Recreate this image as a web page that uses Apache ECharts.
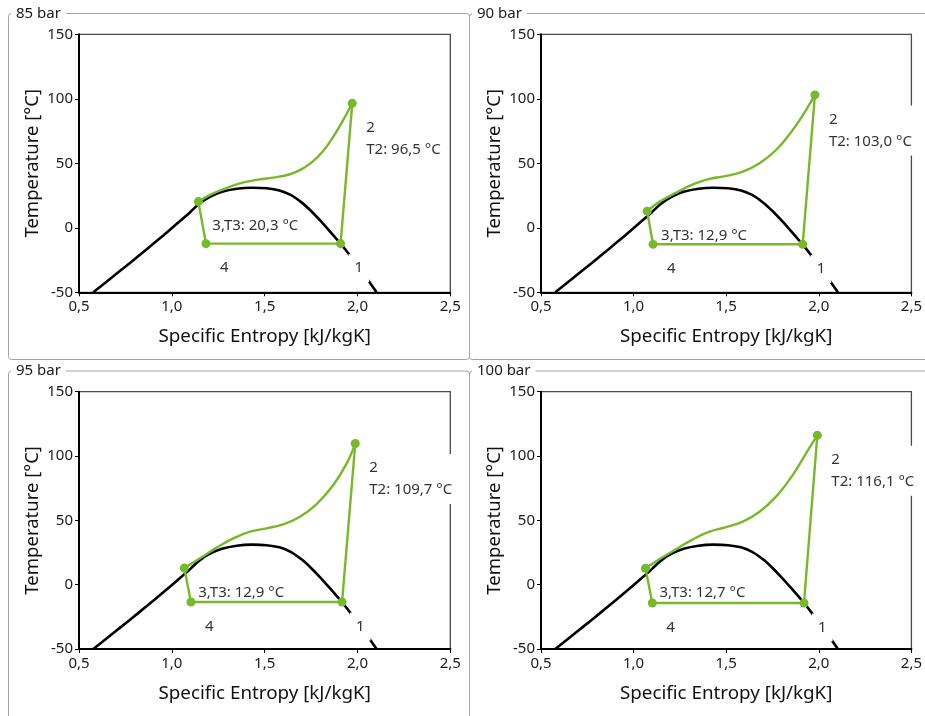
<!DOCTYPE html>
<html>
<head>
<meta charset="utf-8">
<title>CO2 cycle T-s diagrams</title>
<script src="https://cdn.jsdelivr.net/npm/echarts@6/dist/echarts.min.js"></script>
<style>
  html, body { margin: 0; padding: 0; background: #fff; }
  #chart { width: 925px; height: 716px; }
</style>
</head>
<body>
<div id="chart"></div>
<script>
// Panel titles (gas cooler pressure)
const panelTitles = ['85 bar', '90 bar', '95 bar', '100 bar'];

// Axis ticks
const sTicks = [0.5, 1.0, 1.5, 2.0, 2.5];
const tTicks = [-50, 0, 50, 100, 150];

// Saturation dome of CO2 (entropy kJ/kgK, temperature °C)
const domeS = [0.577, 0.685, 0.775, 0.865, 0.954, 1.044, 1.10, 1.146, 1.2, 1.27, 1.35, 1.43, 1.51, 1.58, 1.64, 1.70, 1.75, 1.80, 1.85, 1.909, 1.96, 2.03, 2.103];
const domeT = [-50, -37.6, -27.2, -16.6, -5.9, 5.2, 12.3, 18.5, 23.7, 27.9, 30.3, 31.1, 30.7, 29.0, 25.5, 19.5, 13.0, 5.5, -2.5, -12.3, -21.5, -35.0, -50];

// State points 1..4 per panel
const stateS85 = [1.909, 1.972, 1.143, 1.184];
const stateT85 = [-12.3, 96.5, 20.3, -12.3];
const stateS90 = [1.913, 1.979, 1.073, 1.105];
const stateT90 = [-12.8, 103.0, 12.9, -12.8];
const stateS95 = [1.917, 1.988, 1.067, 1.103];
const stateT95 = [-13.5, 109.7, 12.9, -13.5];
const stateS100 = [1.920, 1.992, 1.064, 1.101];
const stateT100 = [-14.2, 116.1, 12.7, -14.2];

// Gas cooler path 2 -> 3 per panel
const coolerS85 = [1.972, 1.923, 1.869, 1.815, 1.76, 1.70, 1.636, 1.546, 1.457, 1.367, 1.277, 1.206, 1.143];
const coolerT85 = [96.5, 83.5, 70.5, 59.5, 51.5, 45.5, 41.5, 38.9, 37.1, 34.5, 29.8, 25.5, 20.3];
const coolerS90 = [1.979, 1.931, 1.859, 1.769, 1.680, 1.590, 1.500, 1.410, 1.320, 1.231, 1.141, 1.073];
const coolerT90 = [103.0, 91.3, 75.8, 60.3, 50.0, 43.5, 40.2, 37.9, 33.7, 27.3, 20.3, 12.9];
const coolerS95 = [1.988, 1.942, 1.870, 1.780, 1.690, 1.600, 1.511, 1.421, 1.331, 1.241, 1.152, 1.067];
const coolerT95 = [109.7, 94.3, 77.5, 62.7, 52.8, 46.9, 43.8, 41.2, 36.0, 28.8, 20.5, 12.9];
const coolerS100 = [1.992, 1.931, 1.859, 1.769, 1.680, 1.590, 1.500, 1.410, 1.320, 1.231, 1.141, 1.064];
const coolerT100 = [116.1, 102.1, 85.2, 68.4, 56.7, 49.0, 44.8, 41.2, 35.2, 27.7, 20.0, 12.7];

const stateS = [stateS85, stateS90, stateS95, stateS100];
const stateT = [stateT85, stateT90, stateT95, stateT100];
const coolerS = [coolerS85, coolerS90, coolerS95, coolerS100];
const coolerT = [coolerT85, coolerT90, coolerT95, coolerT100];

const FONT = '"Noto Sans", "Open Sans", sans-serif';
const GREEN = '#78b82a';
const FRAME = '#a3a3a3';

const zip = (a, b) => a.map((v, i) => [v, b[i]]);
const comma = (v) => v.toFixed(1).replace('.', ',');

// Plot area of each panel: [left, top, width, height]
const grids = [
  [79, 34.3, 371.3, 258],
  [541, 34.3, 371.3, 258],
  [79, 391.7, 371.3, 257.3],
  [541, 391.7, 371.3, 257.3]
];
// Group box frames: [x, y, width, height]
const frames = [
  [8, 13, 461, 346],
  [469, 13, 480, 346],
  [8, 370.5, 461, 400],
  [469, 370.5, 480, 400]
];

const option = {
  animation: false,
  textStyle: { fontFamily: FONT },
  grid: grids.map(g => ({
    left: g[0], top: g[1], width: g[2], height: g[3],
    show: true, borderColor: '#4a4a4a', borderWidth: 1.3, backgroundColor: 'transparent'
  })),
  xAxis: grids.map((g, i) => ({
    type: 'value', gridIndex: i,
    min: sTicks[0], max: sTicks[sTicks.length - 1], interval: 0.5,
    name: 'Specific Entropy [kJ/kgK]', nameLocation: 'middle', nameGap: 35,
    nameTextStyle: { fontFamily: FONT, fontSize: 18.8, color: '#111' },
    axisLine: { show: true, onZero: false, lineStyle: { color: '#000', width: 2 } },
    axisTick: { show: true, inside: false, length: 4, lineStyle: { color: '#000', width: 1 } },
    axisLabel: { margin: 7, fontFamily: FONT, fontSize: 15, color: '#1a1a1a', formatter: v => comma(v) },
    splitLine: { show: false }
  })),
  yAxis: grids.map((g, i) => ({
    type: 'value', gridIndex: i,
    min: tTicks[0], max: tTicks[tTicks.length - 1], interval: 50,
    name: 'Temperature [°C]', nameLocation: 'middle', nameGap: 37,
    nameTextStyle: { fontFamily: FONT, fontSize: 18.5, color: '#111' },
    axisLine: { show: true, onZero: false, lineStyle: { color: '#000', width: 2 } },
    axisTick: { show: true, inside: false, length: 4, lineStyle: { color: '#000', width: 1 } },
    axisLabel: { margin: 6, fontFamily: FONT, fontSize: 15, color: '#1a1a1a' },
    splitLine: { show: false }
  })),
  graphic: {
    elements: [].concat(
      frames.map(f => ({
        type: 'rect', silent: true, z: 0,
        shape: { x: f[0] + 0.5, y: f[1] + 0.5, width: f[2], height: f[3], r: 3 },
        style: { fill: 'none', stroke: FRAME, lineWidth: 1 }
      })),
      frames.map((f, i) => ({
        type: 'text', silent: true, z: 1,
        x: f[0] + 3, y: f[1] + 0.5,
        style: {
          text: panelTitles[i], fontFamily: FONT, fontSize: 15, fill: '#1a1a1a',
          verticalAlign: 'middle', align: 'left',
          backgroundColor: '#fff', padding: [2, 5, 2, 5]
        }
      }))
    )
  },
  series: []
};

for (let i = 0; i < 4; i++) {
  const s = stateS[i], t = stateT[i];
  // saturation dome
  option.series.push({
    type: 'line', xAxisIndex: i, yAxisIndex: i, z: 2,
    data: zip(domeS, domeT), smooth: 0.3, symbol: 'none',
    lineStyle: { color: '#000', width: 2.6 }, silent: true
  });
  // state annotations (white boxes sit over the dome, under the cycle lines)
  const labels = [
    '1',
    '2\nT2: ' + comma(t[1]) + ' °C',
    '3,T3: ' + comma(t[2]) + ' °C',
    '4'
  ];
  option.series.push({
    type: 'scatter', xAxisIndex: i, yAxisIndex: i, z: 3,
    symbol: 'circle', symbolSize: 8, itemStyle: { color: '#fff', opacity: 1 },
    data: zip(s, t),
    clip: false,
    label: {
      show: true, position: [12, 14.5],
      formatter: p => labels[p.dataIndex],
      fontFamily: FONT, fontSize: 15, color: '#333', lineHeight: 22,
      backgroundColor: '#fff', padding: [3, 6, 3, 6], align: 'left', verticalAlign: 'top'
    },
    silent: true
  });
  // gas cooler 2 -> 3
  option.series.push({
    type: 'line', xAxisIndex: i, yAxisIndex: i, z: 4,
    data: zip(coolerS[i], coolerT[i]), smooth: 0.4, symbol: 'none',
    lineStyle: { color: GREEN, width: 2.4 }, silent: true
  });
  // throttling 3 -> 4, evaporation 4 -> 1, compression 1 -> 2
  option.series.push({
    type: 'line', xAxisIndex: i, yAxisIndex: i, z: 4,
    data: [[s[2], t[2]], [s[3], t[3]], [s[0], t[0]], [s[1], t[1]]],
    symbol: 'none', lineStyle: { color: GREEN, width: 2.4 }, silent: true
  });
  // state point markers
  option.series.push({
    type: 'scatter', xAxisIndex: i, yAxisIndex: i, z: 5,
    symbolSize: 9, itemStyle: { color: GREEN, opacity: 1 },
    data: zip(s, t), clip: false, silent: true
  });
}

const chart = echarts.init(document.getElementById('chart'), null, { renderer: 'canvas' });
chart.setOption(option);
</script>
</body>
</html>
